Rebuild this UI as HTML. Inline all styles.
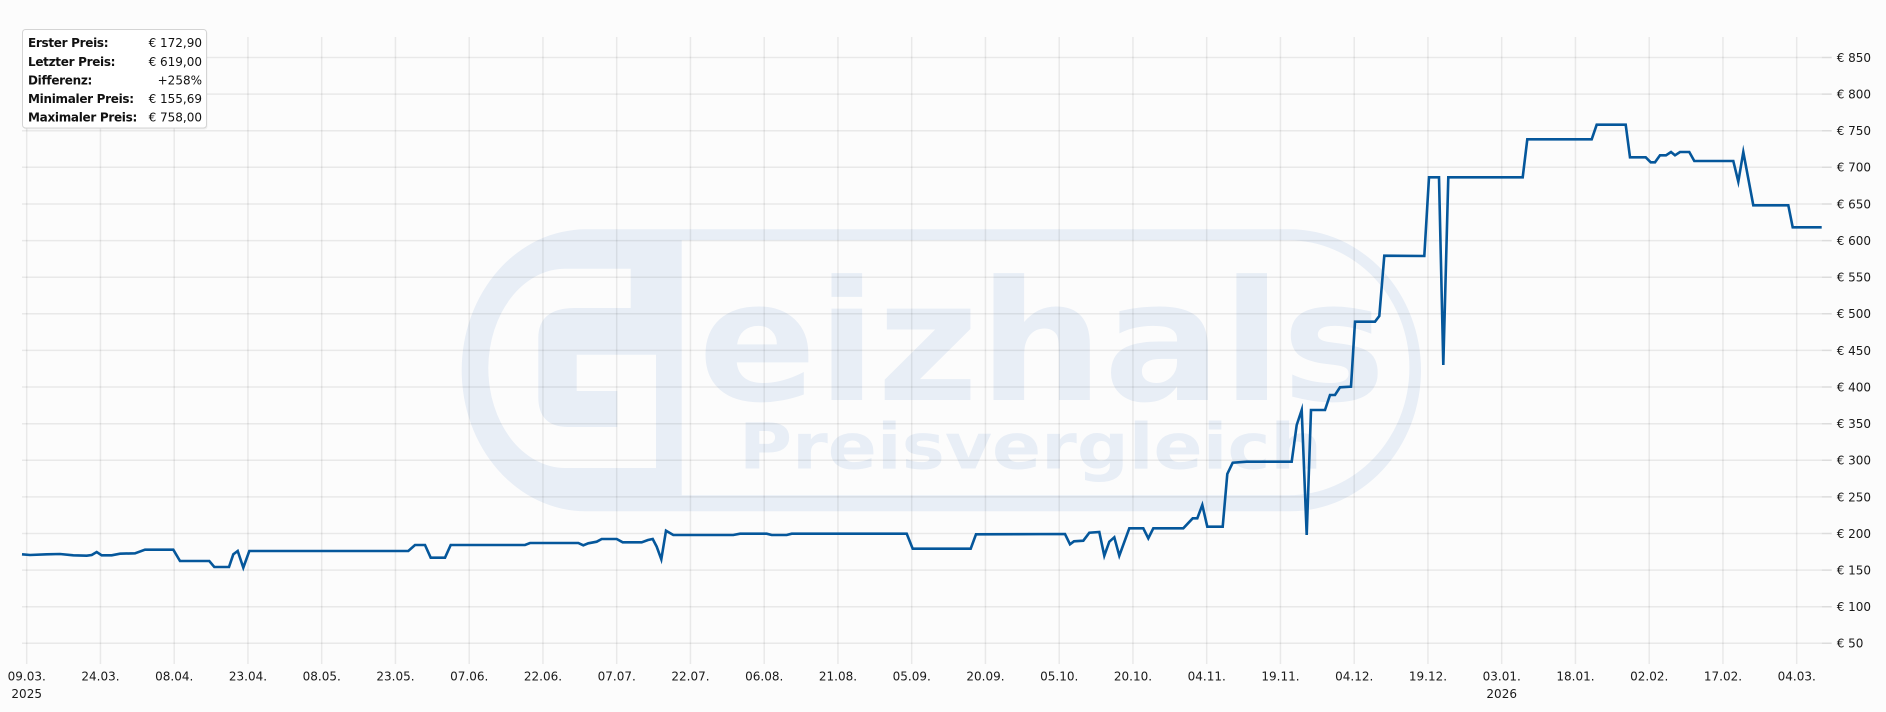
<!DOCTYPE html>
<html>
<head>
<meta charset="utf-8">
<style>
html,body{margin:0;padding:0;background:#fcfcfc;}
svg{display:block;}
text{font-family:"DejaVu Sans","Liberation Sans",sans-serif;}
</style>
</head>
<body>
<svg width="1886" height="712" viewBox="0 0 1886 712" xmlns="http://www.w3.org/2000/svg">
<rect x="0" y="0" width="1886" height="712" fill="#fcfcfc"/>

<!-- Watermark -->
<g fill="#e8eef6">
  <path d="M586,229.3 H1290 A131,141 0 0 1 1421,370.3 A131,141 0 0 1 1290,511.3 H586 A124,141 0 0 1 461.7,370.3 A124,141 0 0 1 586,229.3 Z"/>
</g>
<g fill="#fcfcfc">
  <path d="M681.7,240.3 H1288 A121,127.5 0 0 1 1409.4,367.8 A121,127.5 0 0 1 1288,495.3 H681.7 Z"/>
  <path d="M630.7,268.7 H565 A77,100 0 0 0 488.3,368 A77,100 0 0 0 565,468 H656 V354.7 H576.7 V391 H617.3 V427 H568.3 Q538.3,427 538.3,397 V338 Q538.3,308 575,308 H630.7 Z"/>
</g>
<g fill="#e8eef6" font-weight="bold">
  <text x="698" y="400" font-size="167" textLength="688" lengthAdjust="spacingAndGlyphs">eizhals</text>
  <text x="739" y="468.7" font-size="63.5" textLength="583" lengthAdjust="spacingAndGlyphs">Preisvergleich</text>
</g>

<!-- Grid -->
<g stroke="rgba(0,0,0,0.075)" stroke-width="1.5" fill="none">
  <path d="M22,57.5H1821.7M22,94.1H1821.7M22,130.7H1821.7M22,167.3H1821.7M22,204H1821.7M22,240.6H1821.7M22,277.2H1821.7M22,313.8H1821.7M22,350.4H1821.7M22,387H1821.7M22,423.7H1821.7M22,460.3H1821.7M22,496.9H1821.7M22,533.5H1821.7M22,570.1H1821.7M22,606.7H1821.7M22,643.3H1821.7"/>
  <path d="M26.7,37V664M100.45,37V664M174.2,37V664M247.95,37V664M321.7,37V664M395.45,37V664M469.2,37V664M542.95,37V664M616.7,37V664M690.45,37V664M764.2,37V664M837.95,37V664M911.7,37V664M985.45,37V664M1059.2,37V664M1132.95,37V664M1206.7,37V664M1280.45,37V664M1354.2,37V664M1427.95,37V664M1501.7,37V664M1575.45,37V664M1649.2,37V664M1722.95,37V664M1796.7,37V664"/>
</g>
<g stroke="#dcdcdc" stroke-width="1.5">
  <path d="M1821.7,57.5H1831.7M1821.7,94.1H1831.7M1821.7,130.7H1831.7M1821.7,167.3H1831.7M1821.7,204H1831.7M1821.7,240.6H1831.7M1821.7,277.2H1831.7M1821.7,313.8H1831.7M1821.7,350.4H1831.7M1821.7,387H1831.7M1821.7,423.7H1831.7M1821.7,460.3H1831.7M1821.7,496.9H1831.7M1821.7,533.5H1831.7M1821.7,570.1H1831.7M1821.7,606.7H1831.7M1821.7,643.3H1831.7"/>
</g>

<!-- Y labels -->
<g font-size="12" fill="#1a1a1a">
  <text x="1836.7" y="61.9">€ 850</text>
  <text x="1836.7" y="98.5">€ 800</text>
  <text x="1836.7" y="135.1">€ 750</text>
  <text x="1836.7" y="171.7">€ 700</text>
  <text x="1836.7" y="208.4">€ 650</text>
  <text x="1836.7" y="245">€ 600</text>
  <text x="1836.7" y="281.6">€ 550</text>
  <text x="1836.7" y="318.2">€ 500</text>
  <text x="1836.7" y="354.8">€ 450</text>
  <text x="1836.7" y="391.4">€ 400</text>
  <text x="1836.7" y="428.1">€ 350</text>
  <text x="1836.7" y="464.7">€ 300</text>
  <text x="1836.7" y="501.3">€ 250</text>
  <text x="1836.7" y="537.9">€ 200</text>
  <text x="1836.7" y="574.5">€ 150</text>
  <text x="1836.7" y="611.1">€ 100</text>
  <text x="1836.7" y="647.7">€ 50</text>
</g>

<!-- X labels -->
<g font-size="12" fill="#1a1a1a" text-anchor="middle">
  <text x="26.7" y="680.5">09.03.</text>
  <text x="26.7" y="698.2">2025</text>
  <text x="100.45" y="680.5">24.03.</text>
  <text x="174.2" y="680.5">08.04.</text>
  <text x="247.95" y="680.5">23.04.</text>
  <text x="321.7" y="680.5">08.05.</text>
  <text x="395.45" y="680.5">23.05.</text>
  <text x="469.2" y="680.5">07.06.</text>
  <text x="542.95" y="680.5">22.06.</text>
  <text x="616.7" y="680.5">07.07.</text>
  <text x="690.45" y="680.5">22.07.</text>
  <text x="764.2" y="680.5">06.08.</text>
  <text x="837.95" y="680.5">21.08.</text>
  <text x="911.7" y="680.5">05.09.</text>
  <text x="985.45" y="680.5">20.09.</text>
  <text x="1059.2" y="680.5">05.10.</text>
  <text x="1132.95" y="680.5">20.10.</text>
  <text x="1206.7" y="680.5">04.11.</text>
  <text x="1280.45" y="680.5">19.11.</text>
  <text x="1354.2" y="680.5">04.12.</text>
  <text x="1427.95" y="680.5">19.12.</text>
  <text x="1501.7" y="680.5">03.01.</text>
  <text x="1501.7" y="698.2">2026</text>
  <text x="1575.45" y="680.5">18.01.</text>
  <text x="1649.2" y="680.5">02.02.</text>
  <text x="1722.95" y="680.5">17.02.</text>
  <text x="1796.7" y="680.5">04.03.</text>
</g>

<!-- Series -->
<polyline fill="none" stroke="#05579b" stroke-width="2.6" stroke-linejoin="miter" stroke-miterlimit="6" points="
22,554.3 30,555 46.7,554.3 60,554 73.3,555.3 86.7,555.7 91.7,555 96.7,552 101.7,555.3 111.7,555.3 120,553.7 135,553.3 145,549.7 173.3,549.7 180,561 209.3,561 214.3,567 229,567 233.3,554.3 237.7,551 243.3,567.7 249.3,551 408.3,551 415,545 425,545 430.7,557.7 445,557.7 450.7,545
525,545 530,543 578.3,543 583.3,545.3 588.3,543.3 596.7,541.7 601.7,539 616.7,539 622.7,542.3 641.7,542.3 648,540 652.7,539 656.7,546.7 661.3,559.3 666,530.7 673.3,535 733.3,535 740,533.7 766.7,533.7 771.7,535 786.7,535 791.7,533.7 906.7,533.7 912.7,548.7 970.7,548.7 976,534.3
1065,534 1070,544.3 1074,541.3 1083.3,540.7 1089.3,532.7 1099.3,532 1104.3,555.7 1109.3,541.7 1114.3,537.3 1119.3,555.7 1129.3,528.3 1143.3,528.3 1148.3,538.3 1153.3,528.3 1183.3,528.3 1192.7,518.3 1197.3,518.3 1202.3,505 1207.3,526.7 1222.7,526.7 1227.3,474 1232.7,462.7 1246.7,461.7 1291.7,461.7 1296.7,425 1301.7,410 1306.7,535 1311,410 1325,410 1330,395 1335,395 1340,387.3 1351,386.7
1355,321.7 1375,321.7 1379.3,316 1384.3,255.7
1424.3,256 1429,177.3 1439,177.3 1443.3,365 1448.3,177.3 1522.7,177.3 1527.3,139.3 1591.7,139.3 1596.7,124.7 1625.7,124.7 1630,157.3 1645.7,157.3 1650.7,162.3 1655,162.3 1660,155.3 1666,155.3 1671,152 1675,155.3 1680,152 1689.3,152 1694.3,161 1733.3,161 1738.3,181.7 1743.3,152 1753.3,205.3 1788.3,205.3 1792.7,227.3 1821.7,227.3"/>

<!-- Legend -->
<rect x="23.5" y="30.5" width="184" height="99" rx="3" fill="rgba(0,0,0,0.05)"/>
<rect x="22.5" y="29.5" width="184" height="98.5" rx="3" fill="#ffffff" stroke="#d4d4d4" stroke-width="1"/>
<g font-size="12" fill="#111">
  <g font-weight="bold" letter-spacing="-0.3">
    <text x="28" y="47.1">Erster Preis:</text>
    <text x="28" y="65.8">Letzter Preis:</text>
    <text x="28" y="84.4">Differenz:</text>
    <text x="28" y="103.1">Minimaler Preis:</text>
    <text x="28" y="121.7">Maximaler Preis:</text>
  </g>
  <g text-anchor="end">
    <text x="202" y="47.1">€ 172,90</text>
    <text x="202" y="65.8">€ 619,00</text>
    <text x="202" y="84.4">+258%</text>
    <text x="202" y="103.1">€ 155,69</text>
    <text x="202" y="121.7">€ 758,00</text>
  </g>
</g>
</svg>
</body>
</html>
